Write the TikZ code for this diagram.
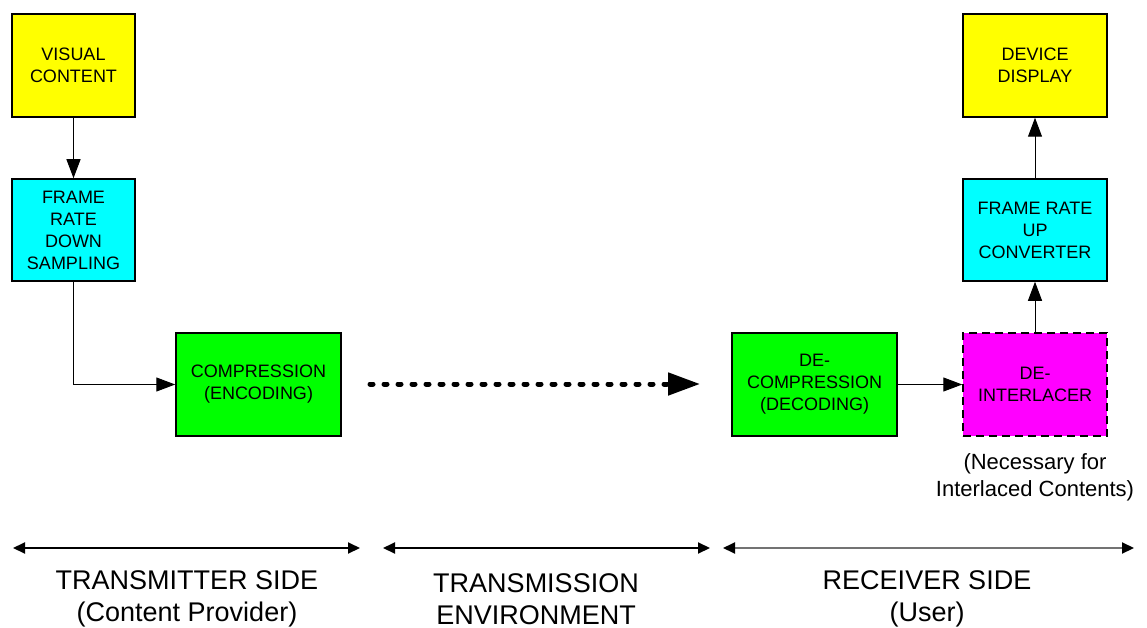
\documentclass[tikz,border=0pt]{standalone}
\usepackage{fontspec}
\setmainfont{Liberation Sans}
\usetikzlibrary{arrows.meta}
\definecolor{cyel}{HTML}{FFFF00}
\definecolor{ccyan}{HTML}{00FFFF}
\definecolor{cgreen}{HTML}{00FF00}
\definecolor{cmag}{HTML}{FF00FF}
\tikzset{
  box/.style={draw=black, line width=1.5pt, inner sep=0pt, align=center, text=black,
    font=\fontsize{18}{22}\selectfont},
  arr/.style={line width=1pt, -{Triangle[length=19pt,width=14pt]}},
  dotarr/.style={line width=5pt, line cap=round, dash pattern=on 3pt off 11pt,
    -{Triangle[length=32pt,width=22pt]}},
  span/.style={line width=2pt, {Triangle[length=12pt,width=11pt]}-{Triangle[length=12pt,width=11pt]}},
  lbl/.style={align=center, font=\fontsize{27}{32}\selectfont, inner sep=0pt},
}
\begin{document}
\begin{tikzpicture}[x=1pt,y=-1pt]
\useasboundingbox (0,0) rectangle (1147,628);
\node[box, fill=cyel, minimum width=123pt, minimum height=103pt] (vc) at (73.5,65.5) {VISUAL\\CONTENT};
\node[box, fill=ccyan, minimum width=123pt, minimum height=102pt] (frds) at (73.5,230) {FRAME\\RATE\\DOWN\\SAMPLING};
\node[box, fill=cgreen, minimum width=165pt, minimum height=103pt] (comp) at (258.5,384.5) {COMPRESSION\\(ENCODING)};
\node[box, fill=cgreen, minimum width=165pt, minimum height=103pt] (decomp) at (814.5,384.5) {DE-\\COMPRESSION\\(DECODING)};
\node[box, fill=cmag, dash pattern=on 8pt off 5pt, minimum width=144pt, minimum height=103pt] (di) at (1035,384.5) {DE-\\INTERLACER};
\node[box, fill=ccyan, minimum width=144pt, minimum height=102pt] (fruc) at (1035,230) {FRAME RATE\\UP\\CONVERTER};
\node[box, fill=cyel, minimum width=144pt, minimum height=103pt] (dd) at (1035,65.5) {DEVICE\\DISPLAY};
\node[align=center, font=\fontsize{22}{27}\selectfont, inner sep=0pt] (note) at (1035,477) {(Necessary for\\Interlaced Contents)};

\draw[arr] (vc.south) -- (frds.north);
\draw[arr] (frds.south) |- (comp.west);
\draw[arr] (decomp.east) -- (di.west);
\draw[arr] (di.north) -- (fruc.south);
\draw[arr] (fruc.north) -- (dd.south);

\coordinate (d1) at (370,384);
\coordinate (d2) at (700,384);
\draw[dotarr] (d1) -- (d2);

\coordinate (a1) at (13,548);
\coordinate (a2) at (360,548);
\coordinate (b1) at (383,548);
\coordinate (b2) at (710,548);
\coordinate (c1) at (723,548);
\coordinate (c2) at (1134,548);
\draw[span] (a1) -- (a2);
\draw[span] (b1) -- (b2);
\draw[line width=2pt, draw=black!55, {Triangle[length=12pt,width=11pt,color=black]}-{Triangle[length=12pt,width=11pt,color=black]}] (c1) -- (c2);

\node[lbl] (l1) at (187,599) {TRANSMITTER SIDE\\(Content Provider)};
\node[lbl] (l2) at (536,599) {TRANSMISSION\\ENVIRONMENT};
\node[lbl] (l3) at (927,599) {RECEIVER SIDE\\(User)};
\end{tikzpicture}
\end{document}
